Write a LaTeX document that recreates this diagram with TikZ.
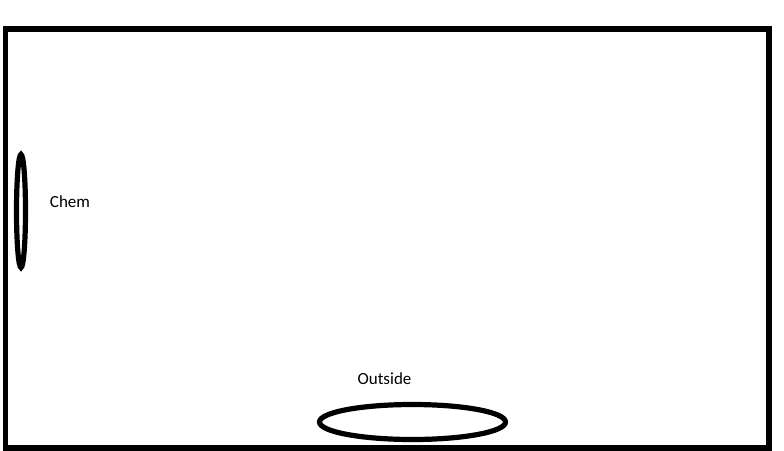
\documentclass[tikz,border=0pt]{standalone}
\usepackage{fontspec}
\setmainfont{Carlito}

\begin{document}
\begin{tikzpicture}[x=0.75pt,y=-0.75pt,
    label text/.style={font=\fontsize{12.75}{15}\selectfont},
    thick ring/.style={line width=3.9pt}]
  \useasboundingbox (0,0) rectangle (784,450);
  \draw[line width=4.3pt] (5.5,29) rectangle (769,448);
  \draw[thick ring] (21,211) ellipse (4.5 and 56.5);
  \node[label text] (chem) at (70,202) {Chem};
  \draw[thick ring] (412.5,422) ellipse (93 and 17.5);
  \node[label text] (outside) at (384.5,379) {Outside};
\end{tikzpicture}
\end{document}
